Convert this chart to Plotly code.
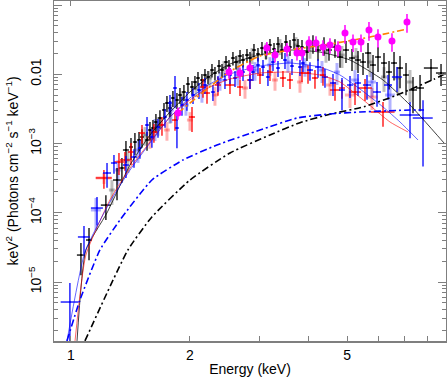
import plotly.graph_objects as go

# ---------------- data ----------------
# black data set
black_E = [1.060, 1.111, 1.226, 1.308, 1.346, 1.378, 1.419, 1.452, 1.487, 1.513, 1.558, 1.585, 1.613, 1.641,
           1.680, 1.720, 1.750, 1.781, 1.812, 1.855, 1.888, 1.932, 1.978, 2.025, 2.060, 2.097, 2.146, 2.184,
           2.223, 2.275, 2.315, 2.370, 2.412, 2.469, 2.512, 2.571, 2.617, 2.679, 2.726, 2.790, 2.839, 2.906,
           2.975, 3.045, 3.117, 3.190, 3.266, 3.343, 3.421, 3.502, 3.585, 3.670, 3.756, 3.845, 3.958, 4.099,
           4.221, 4.371, 4.500, 4.660, 4.798, 4.969, 5.146, 5.329, 5.487, 5.649, 5.816, 5.988, 6.201, 6.385,
           6.574, 6.808, 7.050, 7.343, 7.650, 8.156, 8.646]
black_dE = [0.0247, 0.0194, 0.0357, 0.0305, 0.0235, 0.0241, 0.0165, 0.0169, 0.0173, 0.0176, 0.0182, 0.0185,
            0.0188, 0.0191, 0.0196, 0.0200, 0.0204, 0.0208, 0.0211, 0.0216, 0.0220, 0.0225, 0.0231, 0.0236,
            0.0240, 0.0244, 0.0250, 0.0255, 0.0259, 0.0265, 0.0270, 0.0276, 0.0281, 0.0288, 0.0293, 0.0300,
            0.0305, 0.0312, 0.0318, 0.0325, 0.0331, 0.0339, 0.0347, 0.0355, 0.0363, 0.0372, 0.0381, 0.0390,
            0.0399, 0.0408, 0.0418, 0.0428, 0.0438, 0.0448, 0.0461, 0.0717, 0.0738, 0.0764, 0.0787, 0.0815,
            0.0839, 0.0869, 0.0900, 0.0932, 0.0960, 0.0988, 0.1017, 0.1047, 0.1084, 0.1117, 0.115, 0.119,
            0.123, 0.171, 0.178, 0.333, 0.252]
black_F = [2.45e-5, 4.04e-5, 1.29e-4, 2.97e-4, 4.43e-4, 8.06e-4, 8.90e-4, 1.051e-3, 1.124e-3, 1.241e-3,
           1.124e-3, 1.567e-3, 1.674e-3, 2.044e-3, 2.334e-3, 3.047e-3, 3.845e-3, 3.256e-3, 4.541e-3, 4.249e-3,
           5.017e-3, 5.543e-3, 7.232e-3, 6.546e-3, 7.729e-3, 8.828e-3, 8.260e-3, 9.754e-3, 9.126e-3, 0.011515,
           0.010423, 0.013152, 0.011515, 0.015023, 0.013152, 0.017161, 0.015023, 0.018340, 0.016055, 0.018960,
           0.017161, 0.022390, 0.019601, 0.023930, 0.020949, 0.026441, 0.023148, 0.027333, 0.022390, 0.029214,
           0.024740, 0.031235, 0.025576, 0.024740, 0.020949, 0.028258, 0.022390, 0.026441, 0.022390, 0.024740,
           0.017740, 0.022390, 0.017161, 0.016055, 0.015023, 0.020263, 0.013597, 0.017740, 0.014532, 0.010775,
           0.014532, 0.012307, 0.009754, 0.005925, 0.006332, 0.012307, 0.010423]
black_rel = [0.49, 0.49, 0.39, 0.49, 0.39, 0.35, 0.35, 0.35, 0.30, 0.30, 0.30, 0.30, 0.30, 0.30, 0.30, 0.26,
             0.26, 0.26, 0.26, 0.26, 0.26, 0.26, 0.26, 0.22, 0.22, 0.22, 0.22, 0.22, 0.22, 0.22, 0.22, 0.22,
             0.22, 0.22, 0.22, 0.22, 0.22, 0.22, 0.22, 0.22, 0.22, 0.22, 0.22, 0.22, 0.22, 0.22, 0.22, 0.26,
             0.26, 0.26, 0.26, 0.26, 0.26, 0.26, 0.26, 0.30, 0.30, 0.30, 0.30, 0.30, 0.30, 0.35, 0.35, 0.35,
             0.35, 0.39, 0.39, 0.39, 0.39, 0.44, 0.44, 0.49, 0.49, 0.54, 0.54, 0.35, 0.35]

# grey (second black-group) data set
grey_E = [1.270, 1.394, 1.540, 1.661, 1.781, 1.910, 2.072, 2.249, 2.440, 2.647, 2.873, 3.117, 3.382, 3.713,
          4.028, 4.422, 4.854, 5.267, 5.715, 6.201, 6.729, 7.216]
grey_dE = [0.0222, 0.0163, 0.0180, 0.0194, 0.0208, 0.0223, 0.0242, 0.0262, 0.0284, 0.0309, 0.0335, 0.0363,
           0.0394, 0.0433, 0.0704, 0.0773, 0.0849, 0.0921, 0.0999, 0.1084, 0.1177, 0.1262]
grey_F = [2.13e-4, 5.78e-4, 1.327e-3, 1.850e-3, 2.758e-3, 4.541e-3, 6.332e-3, 8.828e-3, 0.012307, 0.015023,
          0.018960, 0.022390, 0.025576, 0.026441, 0.023930, 0.020949, 0.018960, 0.017740, 0.015023, 0.009126,
          0.008828, 0.007729]
grey_rel = [0.39, 0.35, 0.30, 0.30, 0.30, 0.26, 0.26, 0.26, 0.26, 0.26, 0.26, 0.26, 0.26, 0.30, 0.30, 0.30,
            0.35, 0.35, 0.39, 0.39, 0.44, 0.49]

# red data set
red_E = [1.212, 1.323, 1.370, 1.419, 1.513, 1.622, 1.700, 1.834, 2.025, 2.159, 2.210, 2.356, 2.527, 2.679,
         2.839, 3.010, 3.190, 3.441, 3.585, 3.845, 3.982, 4.147, 4.345, 4.660, 4.854, 5.237, 5.551, 6.165]
red_dE = [0.0565, 0.0386, 0.0399, 0.0248, 0.0265, 0.0284, 0.0297, 0.0321, 0.0354, 0.0378, 0.0387, 0.0412,
          0.0737, 0.0468, 0.0497, 0.0526, 0.0558, 0.0602, 0.0627, 0.0672, 0.0696, 0.0725, 0.0760, 0.1358,
          0.0849, 0.1832, 0.2265, 0.4313]
red_F = [3.18e-4, 5.41e-4, 5.78e-4, 7.54e-4, 1.418e-3, 1.466e-3, 1.850e-3, 2.184e-3, 2.413e-3, 6.546e-3,
         5.362e-3, 6.996e-3, 6.996e-3, 6.546e-3, 8.260e-3, 9.754e-3, 0.010775, 8.828e-3, 8.260e-3, 0.010423,
         0.010423, 8.828e-3, 9.754e-3, 5.925e-3, 6.332e-3, 5.543e-3, 6.332e-3, 2.851e-3]
red_rel = [0.30, 0.35, 0.30, 0.35, 0.30, 0.30, 0.30, 0.30, 0.39, 0.30, 0.30, 0.30, 0.26, 0.26, 0.26, 0.26,
           0.26, 0.26, 0.26, 0.26, 0.30, 0.30, 0.30, 0.30, 0.30, 0.35, 0.35, 0.39]

# light red data set
lred_E = [1.212, 1.585, 1.750, 2.001, 2.315, 2.758, 3.285, 3.800, 4.526, 5.086, 5.782]
lred_dE = [0.0565, 0.0277, 0.0306, 0.0350, 0.0405, 0.0482, 0.0574, 0.0665, 0.1055, 0.1483, 0.2022]
lred_F = [3.18e-4, 1.201e-3, 1.567e-3, 2.184e-3, 5.017e-3, 6.332e-3, 8.260e-3, 7.729e-3, 6.996e-3,
          5.017e-3, 4.694e-3]
lred_rel = [0.18, 0.30, 0.30, 0.30, 0.30, 0.30, 0.30, 0.30, 0.30, 0.35, 0.35]

# blue data set
blue_E = [0.994, 1.079, 1.164, 1.234, 1.285, 1.378, 1.444, 1.495, 1.558, 1.603, 1.661, 1.730, 1.781, 1.834,
          1.855, 1.910, 1.966, 2.037, 2.109, 2.184, 2.288, 2.356, 2.454, 2.527, 2.602, 2.726, 2.839, 2.889,
          2.975, 3.063, 3.153, 3.247, 3.343, 3.482, 3.627, 3.800, 3.867, 4.028, 4.221, 4.396, 4.606, 4.854,
          5.086, 5.329, 5.616, 5.953, 6.348, 6.689, 7.216, 7.784]
blue_dE = [0.0522, 0.0377, 0.0407, 0.0288, 0.0225, 0.0241, 0.0253, 0.0174, 0.0182, 0.0187, 0.0194, 0.0202,
           0.0208, 0.0214, 0.0216, 0.0223, 0.0229, 0.0237, 0.0246, 0.0255, 0.0267, 0.0275, 0.0286, 0.0295,
           0.0303, 0.0318, 0.0331, 0.0337, 0.0347, 0.0357, 0.0368, 0.0379, 0.0390, 0.0406, 0.0423, 0.0443,
           0.0451, 0.0704, 0.0738, 0.0769, 0.0806, 0.0849, 0.0889, 0.0932, 0.131, 0.1388, 0.148, 0.195,
           0.4207, 0.4538]
blue_F = [5.14e-6, 4.47e-5, 1.17e-4, 3.75e-4, 5.23e-4, 4.89e-4, 6.38e-4, 8.61e-4, 1.850e-3, 1.241e-3,
          1.731e-3, 2.413e-3, 3.845e-3, 6.332e-3, 1.674e-3, 3.598e-3, 4.249e-3, 5.017e-3, 5.925e-3, 6.996e-3,
          5.543e-3, 7.476e-3, 8.260e-3, 9.754e-3, 8.828e-3, 0.010775, 8.260e-3, 0.010775, 0.013597, 0.012722,
          9.126e-3, 0.015023, 0.012307, 0.016055, 0.013152, 0.012722, 0.014532, 0.011515, 0.012722, 9.126e-3,
          7.476e-3, 5.925e-3, 6.996e-3, 7.476e-3, 6.996e-3, 5.543e-3, 6.996e-3, 9.126e-3, 2.58e-3, 2.334e-3]
blue_rel = [0.88, 0.44, 0.44, 0.39, 0.30, 0.35, 0.30, 0.30, 0.30, 0.30, 0.30, 0.30, 0.30, 0.49, 0.49, 0.30,
            0.30, 0.26, 0.26, 0.26, 0.26, 0.26, 0.26, 0.26, 0.26, 0.26, 0.26, 0.26, 0.26, 0.26, 0.26, 0.26,
            0.26, 0.26, 0.26, 0.26, 0.26, 0.30, 0.30, 0.30, 0.35, 0.49, 0.35, 0.35, 0.39, 0.39, 0.39, 0.39,
            0.54, 0.80]

# light blue data set
lblue_E = [1.157, 1.315, 1.478, 1.632, 1.791, 1.955, 2.146, 2.384, 2.647, 2.923, 3.190, 3.543, 3.913, 4.320,
           4.715, 5.237, 5.782, 6.422]
lblue_dE = [0.0337, 0.0230, 0.0258, 0.0285, 0.0313, 0.0342, 0.0375, 0.0417, 0.0463, 0.0511, 0.0558, 0.0620,
            0.0684, 0.0756, 0.0825, 0.1221, 0.1348, 0.1872]
lblue_F = [1.096e-4, 4.14e-4, 8.06e-4, 1.674e-3, 3.047e-3, 3.598e-3, 5.543e-3, 8.260e-3, 9.754e-3, 0.011515,
           0.013597, 0.015023, 0.013152, 0.011515, 0.010775, 8.260e-3, 7.729e-3, 5.017e-3]
lblue_rel = [0.49, 0.39, 0.35, 0.35, 0.35, 0.30, 0.30, 0.30, 0.30, 0.30, 0.30, 0.30, 0.30, 0.35, 0.35, 0.39,
             0.39, 0.44]

# magenta data set
mag_E = [1.866, 2.512, 2.679, 2.839, 3.133, 3.285, 3.523, 3.734, 3.845, 4.005, 4.172, 4.345, 4.526, 4.742,
         4.940, 5.176, 5.423, 5.681, 5.987, 6.496, 7.090]
mag_F = [2.758e-3, 0.010775, 0.010423, 0.012307, 0.023930, 0.018960, 0.023148, 0.020263, 0.020263, 0.028258,
         0.028258, 0.024740, 0.026441, 0.023930, 0.039420, 0.029214, 0.029214, 0.043550, 0.034500, 0.030190,
         0.056830]
mag_rel = [0.20, 0.20, 0.20, 0.20, 0.22, 0.22, 0.22, 0.22, 0.22, 0.25, 0.25, 0.25, 0.25, 0.25, 0.30, 0.28,
           0.28, 0.30, 0.30, 0.30, 0.30]

# model curves
mod_black_E = [1.036, 1.091, 1.233, 1.411, 1.585, 1.781, 2.001, 2.249, 2.527, 2.992, 3.585, 4.270, 5.086,
               6.165, 7.216, 8.799]
mod_black_F = [1.41e-6, 2.9e-5, 9.92e-5, 4.89e-4, 1.327e-3, 2.851e-3, 5.543e-3, 9.43e-3, 0.01406, 0.01896,
               0.02239, 0.02095, 0.01606, 0.00826, 0.0036, 1.017e-3]
mod_blue_E = [0.977, 1.085, 1.255, 1.411, 1.585, 1.781, 2.001, 2.249, 2.527, 3.010, 3.585, 4.270, 4.798,
              5.392, 6.165, 6.808, 7.561]
mod_blue_F = [1.41e-6, 2.71e-5, 1.43e-4, 4.14e-4, 1.017e-3, 2.413e-3, 4.541e-3, 7.232e-3, 0.01008, 0.013152,
              0.014532, 0.012722, 0.009754, 6.12e-3, 3.37e-3, 2.044e-3, 1.124e-3]
mod_red_E = [1.024, 1.091, 1.255, 1.411, 1.585, 1.781, 2.001, 2.249, 2.527, 3.010, 3.585, 4.270, 4.798,
             5.616, 6.422, 7.132]
mod_red_F = [1.41e-6, 2.45e-5, 1.53e-4, 4.43e-4, 1.051e-3, 2.413e-3, 4.249e-3, 6.546e-3, 8.54e-3, 0.010423,
             0.010775, 9.754e-3, 7.729e-3, 3.845e-3, 2.044e-3, 1.466e-3]
comp_black_E = [1.085, 1.394, 1.603, 2.001, 2.527, 3.190, 3.800, 4.526, 5.519, 6.689, 8.300, 8.900]
comp_black_F = [1.41e-6, 2.9e-5, 8.7e-5, 2.97e-4, 7.3e-4, 1.327e-3, 2.0e-3, 2.65e-3, 3.4e-3, 5.0e-3,
                8.5e-3, 0.0103]
comp_blue_E = [0.977, 1.054, 1.184, 1.331, 1.603, 1.921, 2.342, 3.010, 3.734, 4.526, 5.392, 7.216, 7.830]
comp_blue_F = [1.41e-6, 5.5e-6, 2.9e-5, 7.86e-5, 2.97e-4, 5.78e-4, 9.51e-4, 1.566e-3, 2.334e-3, 2.67e-3,
               2.851e-3, 3.047e-3, 3.047e-3]
mod_mag_E = [1.866, 2.512, 3.010, 3.585, 4.526, 5.715, 7.090]
mod_mag_F = [2.76e-3, 0.0108, 0.01834, 0.02239, 0.02733, 0.0345, 0.045]

x_tick_vals = [1, 2, 5]
x_tick_text = ["1", "2", "5"]
x_minor_vals = [3, 4, 6, 7, 8]
y_tick_vals = [1e-5, 1e-4, 1e-3, 1e-2, 1e-1]
y_tick_text = ["10<sup>−5</sup>", "10<sup>−4</sup>", "10<sup>−3</sup>", "0.01", "0.1"]

# ---------------- figure ----------------
FONT = "Liberation Sans, Arial, Helvetica, sans-serif"
fig = go.Figure()


def add_data(E, dE, F, rel, color, thick, msize=2):
    fig.add_trace(go.Scatter(
        x=E, y=F, mode="markers",
        marker=dict(size=msize, color=color),
        error_x=dict(type="data", array=dE, color=color, thickness=thick, width=0),
        error_y=dict(type="data", array=[f * r for f, r in zip(F, rel)],
                     arrayminus=[f * r for f, r in zip(F, rel)],
                     color=color, thickness=thick, width=0),
        showlegend=False, hoverinfo="skip"))


add_data(grey_E, grey_dE, grey_F, grey_rel, "rgba(0,0,0,0.25)", 3, 1)
add_data(lred_E, lred_dE, lred_F, lred_rel, "rgba(255,0,0,0.3)", 3, 1)
add_data(lblue_E, lblue_dE, lblue_F, lblue_rel, "rgba(0,0,255,0.3)", 3, 1)
add_data(black_E, black_dE, black_F, black_rel, "#000000", 1.3)
add_data(red_E, red_dE, red_F, red_rel, "#ff0000", 1.3)
add_data(blue_E, blue_dE, blue_F, blue_rel, "#0000ff", 1.3)


def add_line(E, F, color, width, dash="solid"):
    fig.add_trace(go.Scatter(x=E, y=F, mode="lines", line=dict(color=color, width=width, dash=dash,
                                                              shape="spline", smoothing=0.5),
                             showlegend=False, hoverinfo="skip"))


add_line(mod_black_E, mod_black_F, "rgba(0,0,0,0.75)", 1)
add_line(mod_red_E, mod_red_F, "rgba(255,0,0,0.6)", 1)
add_line(mod_blue_E, mod_blue_F, "rgba(0,0,255,0.6)", 1)
add_line(comp_black_E, comp_black_F, "#000000", 1.6, "7px,3px,2px,3px")
add_line(comp_blue_E, comp_blue_F, "#0000ff", 1.6, "7px,3px,2px,3px")
add_line(mod_mag_E, mod_mag_F, "#ff8000", 1.6, "7px,3px,2px,3px")

fig.add_trace(go.Scatter(
    x=mag_E, y=mag_F, mode="markers",
    marker=dict(size=7, color="#ff00ff"),
    error_y=dict(type="data", array=[f * r for f, r in zip(mag_F, mag_rel)],
                 arrayminus=[f * r for f, r in zip(mag_F, mag_rel)],
                 color="#ff00ff", thickness=1.5, width=0),
    showlegend=False, hoverinfo="skip"))

AX = "#7f7f7f"
fig.update_layout(
    width=447, height=382,
    margin=dict(l=54, r=1, t=1, b=41, autoexpand=False),
    paper_bgcolor="white", plot_bgcolor="white",
    font=dict(family=FONT, size=14, color="#000000"),
    xaxis=dict(
        type="log", range=[-0.0429, 0.9494], automargin=False,
        tickvals=x_tick_vals, ticktext=x_tick_text,
        ticks="inside", ticklen=5, tickwidth=1, tickcolor=AX,
        showline=True, linecolor=AX, linewidth=1.5, mirror="allticks",
        showgrid=False, zeroline=False,
        minor=dict(tickvals=x_minor_vals, ticks="inside", ticklen=5, tickcolor=AX, tickwidth=1, showgrid=False),
        title=dict(text="Energy (keV)", standoff=2, font=dict(size=14)),
        tickfont=dict(size=14),
        ticklabelstandoff=1,
    ),
    yaxis=dict(
        type="log", range=[-5.852, -0.942], automargin=False,
        tickvals=y_tick_vals, ticktext=y_tick_text, tickangle=-90,
        ticks="inside", ticklen=8, tickwidth=1, tickcolor=AX,
        showline=True, linecolor=AX, linewidth=1.5, mirror="allticks",
        showgrid=False, zeroline=False,
        minor=dict(tickvals=[k * 10.0 ** d for d in range(-6, 0) for k in range(2, 10)],
                   ticks="inside", ticklen=4, tickcolor=AX, tickwidth=1, showgrid=False),
        title=dict(text="keV<sup>2</sup> (Photons cm<sup>−2</sup> s<sup>−1</sup> keV<sup>−1</sup>)",
                   standoff=4, font=dict(size=14)),
        tickfont=dict(size=14),
        ticklabelstandoff=6,
    ),
)

fig.write_html("out.html",
               config={"displayModeBar": False, "staticPlot": True},
               post_script="document.body.style.margin='0';document.body.style.overflow='hidden';")
